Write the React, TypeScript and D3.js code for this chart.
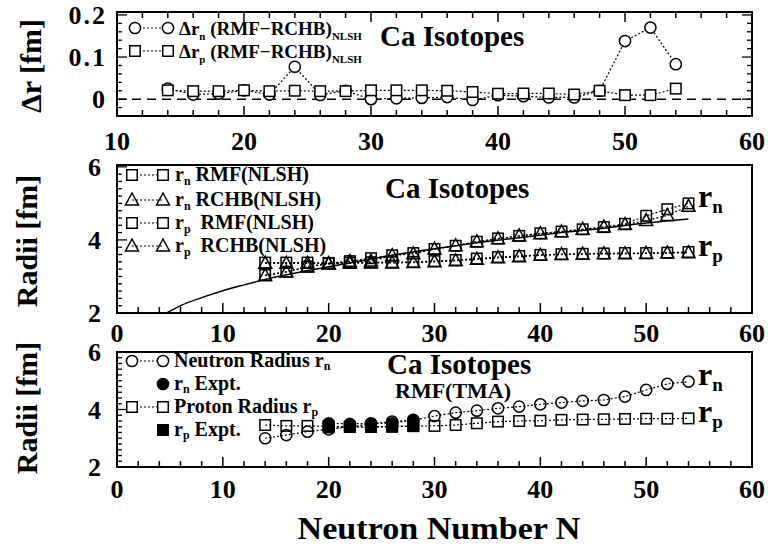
import React from "react";
import * as d3 from "d3";

// ---------------- DATA ----------------
const neutronN = [14, 16, 18, 20, 22, 24, 26, 28, 30, 32, 34, 36, 38, 40, 42, 44, 46, 48, 50, 52, 54];

// Top panel: differences RMF - RCHB (NLSH)
const deltaRn = [0.025, 0.011, 0.013, 0.021, 0.011, 0.077, 0.01, 0.02, 0.0, 0.002, 0.003, 0.005, -0.002, 0.0095, 0.007, 0.004, 0.004, 0.02, 0.138, 0.17, 0.083];
const deltaRp = [0.021, 0.019, 0.019, 0.021, 0.019, 0.02, 0.019, 0.019, 0.021, 0.021, 0.021, 0.02, 0.017, 0.013, 0.0135, 0.0135, 0.011, 0.02, 0.0095, 0.0095, 0.025];

// Middle panel: NLSH radii
const rnRMF = [3.04, 3.13, 3.27, 3.36, 3.42, 3.5, 3.58, 3.64, 3.75, 3.84, 3.95, 4.04, 4.11, 4.18, 4.23, 4.29, 4.35, 4.44, 4.66, 4.84, 5.0];
const rnRCHB = [3.02, 3.12, 3.26, 3.34, 3.41, 3.42, 3.57, 3.62, 3.75, 3.84, 3.95, 4.03, 4.11, 4.17, 4.22, 4.29, 4.35, 4.42, 4.53, 4.67, 4.92];
const rpRMF = [3.38, 3.38, 3.38, 3.37, 3.38, 3.39, 3.39, 3.4, 3.42, 3.45, 3.49, 3.53, 3.56, 3.59, 3.61, 3.62, 3.63, 3.64, 3.64, 3.65, 3.67];
const rpRCHB = [3.36, 3.36, 3.36, 3.35, 3.36, 3.37, 3.37, 3.38, 3.4, 3.43, 3.47, 3.51, 3.54, 3.58, 3.6, 3.61, 3.62, 3.62, 3.63, 3.64, 3.65];

// Solid curve in middle panel
const curveN = [4.7, 6, 8, 10, 12, 14, 18, 22, 26, 30, 34, 38, 42, 46, 50, 54];
const curveR = [2.0, 2.2, 2.42, 2.61, 2.77, 2.92, 3.16, 3.37, 3.58, 3.76, 3.92, 4.06, 4.2, 4.32, 4.46, 4.57];

// Bottom panel: RMF(TMA) and experiment
const rnTMA = [3.0, 3.11, 3.23, 3.31, 3.4, 3.5, 3.58, 3.63, 3.77, 3.89, 3.96, 4.04, 4.1, 4.18, 4.24, 4.3, 4.33, 4.45, 4.68, 4.89, 4.97];
const rpTMA = [3.46, 3.43, 3.43, 3.41, 3.4, 3.4, 3.41, 3.42, 3.43, 3.46, 3.52, 3.58, 3.6, 3.61, 3.64, 3.65, 3.66, 3.67, 3.68, 3.68, 3.69];
const exptN = [20, 22, 24, 26, 28];
const rnExpt = [3.52, 3.5, 3.52, 3.52, 3.64];
const rpExpt = [3.38, 3.39, 3.39, 3.4, 3.43];

// Ticks
const topXTicks = [10, 20, 30, 40, 50, 60];
const radXTicks = [0, 10, 20, 30, 40, 50, 60];
const topYTicks = [0, 0.1, 0.2];
const topYLabels = ["0", "0.1", "0.2"];
const radYTicks = [2, 4, 6];

// ---------------- LAYOUT ----------------
const W = 768;
const H = 546;
const X0 = 117;
const X1 = 752;
const FONT = "Liberation Serif, Times New Roman, serif";

const xTop = d3.scaleLinear().domain([10, 60]).range([X0, X1]);
const xRad = d3.scaleLinear().domain([0, 60]).range([X0, X1]);
const yTop = d3.scaleLinear().domain([-0.04, 0.207]).range([116, 12]);
const yMid = d3.scaleLinear().domain([2, 6.05]).range([313, 165]);
const yBot = d3.scaleLinear().domain([2, 6]).range([467, 352]);

const dotted = "2,2";

function Circle({ x, y, filled = false, fill = "none" }: { x: number; y: number; filled?: boolean; fill?: string }) {
  return <circle cx={x} cy={y} r={5.6} fill={filled ? "#000" : fill} stroke="#000" strokeWidth={1.5} />;
}
function Square({ x, y, filled = false, fill = "none" }: { x: number; y: number; filled?: boolean; fill?: string }) {
  const s = 10.5;
  return <rect x={x - s / 2} y={y - s / 2} width={s} height={s} fill={filled ? "#000" : fill} stroke="#000" strokeWidth={1.5} />;
}
function Tri({ x, y }: { x: number; y: number; filled?: boolean; fill?: string }) {
  const p = `${x},${y - 7} ${x + 6.5},${y + 5} ${x - 6.5},${y + 5}`;
  return <polygon points={p} fill="none" stroke="#000" strokeWidth={1.5} />;
}

function Series({ xs, ys, xS, yS, marker, dash = dotted, fill = "none", filled = false, noLine = false }: any) {
  const line = d3.line<number>().x((d, i) => xS(xs[i])).y((d) => yS(d));
  return (
    <g>
      {!noLine && <path d={line(ys) || ""} fill="none" stroke="#000" strokeWidth={1.2} strokeDasharray={dash} />}
      {ys.map((v: number, i: number) => {
        const px = xS(xs[i]);
        const py = yS(v);
        if (marker === "circle") return <Circle key={i} x={px} y={py} fill={fill} filled={filled} />;
        if (marker === "square") return <Square key={i} x={px} y={py} fill={fill} filled={filled} />;
        return <Tri key={i} x={px} y={py} />;
      })}
    </g>
  );
}

function Frame({ xS, yS, xMinor, yMinor, xMajor, yMajor, allSides }: any) {
  const [ya, yb] = yS.range();
  const bottom = Math.max(ya, yb);
  const top = Math.min(ya, yb);
  const els: any[] = [];
  const isMajorX = (v: number) => xMajor.some((m: number) => Math.abs(m - v) < 1e-6);
  const isMajorY = (v: number) => yMajor.some((m: number) => Math.abs(m - v) < 1e-6);
  xMinor.forEach((v: number, i: number) => {
    const px = xS(v);
    const len = isMajorX(v) ? 10 : 6;
    els.push(<line key={"xb" + i} x1={px} x2={px} y1={bottom} y2={bottom - len} stroke="#000" strokeWidth={1.5} />);
    if (allSides) els.push(<line key={"xt" + i} x1={px} x2={px} y1={top} y2={top + len} stroke="#000" strokeWidth={1.5} />);
  });
  yMinor.forEach((v: number, i: number) => {
    const py = yS(v);
    if (py < top - 0.5 || py > bottom + 0.5) return;
    const len = isMajorY(v) ? 10 : 5;
    els.push(<line key={"yl" + i} x1={X0} x2={X0 + len} y1={py} y2={py} stroke="#000" strokeWidth={1.3} />);
    if (allSides) els.push(<line key={"yr" + i} x1={X1} x2={X1 - len} y1={py} y2={py} stroke="#000" strokeWidth={1.3} />);
  });
  return (
    <g>
      {els}
      <rect x={X0} y={top} width={X1 - X0} height={bottom - top} fill="none" stroke="#000" strokeWidth={2} />
    </g>
  );
}

function XLabels({ ticks, xS, y }: any) {
  return (
    <g>
      {ticks.map((t: number) => (
        <text key={t} x={xS(t)} y={y} textAnchor="middle" fontSize={26} fontWeight="bold" fontFamily={FONT}>
          {t}
        </text>
      ))}
    </g>
  );
}

function YLabels({ ticks, labels, yS, x, spacing = 0 }: any) {
  return (
    <g>
      {ticks.map((t: number, i: number) => (
        <text key={t} x={x} y={yS(t)} dy="0.35em" textAnchor="end" fontSize={26} fontWeight="bold" fontFamily={FONT} letterSpacing={spacing}>
          {labels ? labels[i] : t}
        </text>
      ))}
    </g>
  );
}

function Sub({ base, sub, x, y, size = 20, subSize = 12, rest = "", shift = 4 }: any) {
  return (
    <text x={x} y={y} fontSize={size} fontWeight="bold" fontFamily={FONT}>
      {base}
      <tspan dy={shift} fontSize={subSize}>{sub}</tspan>
      <tspan dy={-shift}>{rest}</tspan>
    </text>
  );
}

function LegendLine({ y, marker, x1 = 132, x2 = 163, noLine = false, filled = false }: any) {
  const M = marker === "circle" ? Circle : marker === "square" ? Square : Tri;
  return (
    <g>
      {!noLine && <line x1={x1} x2={x2} y1={y} y2={y} stroke="#000" strokeWidth={1.2} strokeDasharray={dotted} />}
      {!noLine && <M x={x1} y={y} fill="#fff" />}
      <M x={x2} y={y} fill="#fff" filled={filled} />
    </g>
  );
}

export default function App() {
  const xMinorTop = d3.range(10, 60.01, 2);
  const xMinorRad = d3.range(0, 60.01, 2);
  const yMinorTop = d3.range(-0.04, 0.2101, 0.02).map((v) => Math.round(v * 1000) / 1000);
  const yMinorRad = d3.range(2, 6.01, 0.2).map((v) => Math.round(v * 10) / 10);
  const curveLine = d3
    .line<number>()
    .x((d, i) => xRad(curveN[i]))
    .y((d) => yMid(d))
    .curve(d3.curveMonotoneX);

  return (
    <svg width={W} height={H} style={{ display: "block", position: "absolute", left: 0, top: 0 }} fontFamily={FONT}>
      <rect width={W} height={H} fill="#fff" />

      {/* ---------- TOP PANEL ---------- */}
      <line x1={X0} x2={X1} y1={yTop(0)} y2={yTop(0)} stroke="#000" strokeWidth={1.5} strokeDasharray="9,6" />
      <Series xs={neutronN} ys={deltaRn} xS={xTop} yS={yTop} marker="circle" fill="#fff" />
      <Series xs={neutronN} ys={deltaRp} xS={xTop} yS={yTop} marker="square" fill="#fff" />
      <Frame xS={xTop} yS={yTop} xMinor={xMinorTop} yMinor={yMinorTop} xMajor={topXTicks} yMajor={topYTicks} allSides />
      <XLabels ticks={topXTicks} xS={xTop} y={150} />
      <YLabels ticks={topYTicks} labels={topYLabels} yS={yTop} x={107} spacing={2} />
      <text transform={`translate(41,${66}) rotate(-90)`} textAnchor="middle" fontSize={30} fontWeight="bold" fontFamily={FONT}>
        Δr [fm]
      </text>
      <LegendLine y={28} marker="circle" x1={135} x2={168} />
      <text x={179} y={35} fontSize={19} fontWeight="bold" fontFamily={FONT}>
        Δr<tspan dy={5} fontSize={11}>n</tspan>
        <tspan dy={-5}> (RMF−RCHB)</tspan>
        <tspan dy={5} fontSize={11}>NLSH</tspan>
      </text>
      <LegendLine y={51} marker="square" x1={135} x2={168} />
      <text x={179} y={58} fontSize={19} fontWeight="bold" fontFamily={FONT}>
        Δr<tspan dy={5} fontSize={11}>p</tspan>
        <tspan dy={-5}> (RMF−RCHB)</tspan>
        <tspan dy={5} fontSize={11}>NLSH</tspan>
      </text>
      <text x={380} y={46} fontSize={29} fontWeight="bold" fontFamily={FONT}>
        Ca Isotopes
      </text>

      {/* ---------- MIDDLE PANEL ---------- */}
      <path d={curveLine(curveR) || ""} fill="none" stroke="#000" strokeWidth={1.5} />
      <Series xs={neutronN} ys={rnRMF} xS={xRad} yS={yMid} marker="square" />
      <Series xs={neutronN} ys={rnRCHB} xS={xRad} yS={yMid} marker="tri" />
      <Series xs={neutronN} ys={rpRMF} xS={xRad} yS={yMid} marker="square" />
      <Series xs={neutronN} ys={rpRCHB} xS={xRad} yS={yMid} marker="tri" />
      <Frame xS={xRad} yS={yMid} xMinor={xMinorRad} yMinor={yMinorRad} xMajor={radXTicks} yMajor={radYTicks} />
      <XLabels ticks={radXTicks} xS={xRad} y={342} />
      <YLabels ticks={radYTicks} yS={yMid} x={101} />
      <text transform={`translate(37,${241}) rotate(-90)`} textAnchor="middle" fontSize={30} fontWeight="bold" fontFamily={FONT}>
        Radii [fm]
      </text>
      <LegendLine y={175} marker="square" />
      <Sub base="r" sub="n" rest=" RMF(NLSH)" x={175} y={181} />
      <LegendLine y={200} marker="tri" />
      <Sub base="r" sub="n" rest=" RCHB(NLSH)" x={175} y={206} />
      <LegendLine y={223} marker="square" />
      <Sub base="r" sub="p" rest={"\u00a0 RMF(NLSH)"} x={175} y={229} />
      <LegendLine y={246} marker="tri" />
      <Sub base="r" sub="p" rest={"\u00a0 RCHB(NLSH)"} x={175} y={252} />
      <text x={385} y={198} fontSize={29} fontWeight="bold" fontFamily={FONT}>
        Ca Isotopes
      </text>
      <Sub base="r" sub="n" x={698} y={207} size={32} subSize={19} shift={6} />
      <Sub base="r" sub="p" x={698} y={256} size={32} subSize={19} shift={6} />

      {/* ---------- BOTTOM PANEL ---------- */}
      <Series xs={neutronN} ys={rnTMA} xS={xRad} yS={yBot} marker="circle" />
      <Series xs={exptN} ys={rnExpt} xS={xRad} yS={yBot} marker="circle" filled />
      <Series xs={neutronN} ys={rpTMA} xS={xRad} yS={yBot} marker="square" />
      <Series xs={exptN} ys={rpExpt} xS={xRad} yS={yBot} marker="square" filled />
      <Frame xS={xRad} yS={yBot} xMinor={xMinorRad} yMinor={yMinorRad} xMajor={radXTicks} yMajor={radYTicks} />
      <XLabels ticks={radXTicks} xS={xRad} y={498} />
      <YLabels ticks={radYTicks} yS={yBot} x={101} />
      <text transform={`translate(37,${408}) rotate(-90)`} textAnchor="middle" fontSize={30} fontWeight="bold" fontFamily={FONT}>
        Radii [fm]
      </text>
      <LegendLine y={361} marker="circle" />
      <Sub base="Neutron Radius r" sub="n" x={174} y={367} shift={3} />
      <LegendLine y={384} marker="circle" noLine filled />
      <Sub base="r" sub="n" rest=" Expt." x={174} y={390} shift={3} />
      <LegendLine y={407} marker="square" />
      <Sub base="Proton Radius r" sub="p" x={174} y={413} shift={3} />
      <LegendLine y={430} marker="square" noLine filled />
      <Sub base="r" sub="p" rest=" Expt." x={174} y={436} shift={3} />
      <text x={387} y={374} fontSize={29} fontWeight="bold" fontFamily={FONT}>
        Ca Isotopes
      </text>
      <text x={395} y={398} fontSize={22} fontWeight="bold" fontFamily={FONT}>
        RMF(TMA)
      </text>
      <Sub base="r" sub="n" x={698} y={385} size={32} subSize={19} shift={6} />
      <Sub base="r" sub="p" x={698} y={422} size={32} subSize={19} shift={6} />

      <text transform="translate(439,539) scale(1.1,1)" textAnchor="middle" fontSize={31} fontWeight="bold" fontFamily={FONT}>
        Neutron Number N
      </text>
    </svg>
  );
}
